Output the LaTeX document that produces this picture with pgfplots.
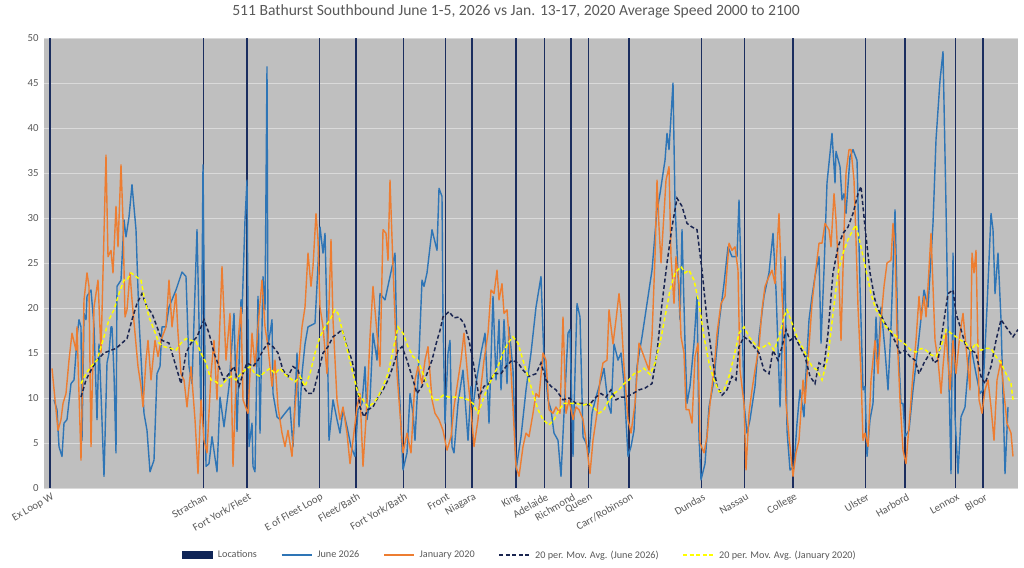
\documentclass[border=0pt]{standalone}
\usepackage{fontspec}
\setmainfont{Carlito}
\usepackage{pgfplots}
\pgfplotsset{compat=1.18}
\definecolor{bgGray}{HTML}{BFBFBF}
\definecolor{gridC}{HTML}{DADADA}
\definecolor{txtC}{HTML}{595959}
\definecolor{locNavy}{HTML}{1B2D5E}
\definecolor{locBox}{HTML}{0F2557}
\definecolor{juneBlue}{HTML}{2E75B6}
\definecolor{janOrange}{HTML}{ED7D31}
\definecolor{maNavy}{HTML}{1A2550}
\definecolor{maYellow}{HTML}{FFFF00}
\begin{document}
\begin{tikzpicture}
\path[use as bounding box] (0,0) rectangle (1024bp,568bp);
\begin{axis}[
  at={(44bp,80bp)}, anchor=south west,
  scale only axis, width=974bp, height=450bp,
  xmin=44, xmax=1018, ymin=0, ymax=50,
  axis background/.style={fill=bgGray},
  axis line style={draw=none},
  major tick length=0pt,
  ytick={0,5,...,50},
  ymajorgrids, grid style={gridC, line width=0.9bp},
  xtick={50,203,247,319,356,403,445.5,472,516,544,571,588.5,629,701,744.5,793,865,905,955,983},
  xticklabels={Ex Loop W,Strachan,Fort York/Fleet,E of Fleet Loop,Fleet/Bath,Fort York/Bath,Front,Niagara,King,Adelaide,Richmond,Queen,Carr/Robinson,Dundas,Nassau,College,Ulster,Harbord,Lennox,Bloor},
  xticklabel style={xshift=5bp, rotate=30, anchor=east, font=\fontsize{10.8bp}{12bp}\selectfont, text=txtC, inner sep=2bp},
  xticklabel shift=7bp,
  yticklabel style={font=\fontsize{10.8bp}{12bp}\selectfont, text=txtC, xshift=-2bp},
  /pgf/number format/assume math mode=true,
  title={511 Bathurst Southbound June 1-5, 2026 vs Jan. 13-17, 2020 Average Speed 2000 to 2100},
  title style={at={(0.4846,1.0467)}, anchor=center, yshift=0pt, font=\fontsize{15.6bp}{18bp}\selectfont, text=txtC},
  legend columns=5,
  legend style={at={(0.4887,-0.149)}, anchor=center, draw=none, fill=none,
    font=\fontsize{10.2bp}{12bp}\selectfont, text=txtC, inner sep=0pt,
    /tikz/every odd column/.append style={column sep=3bp},
    /tikz/every even column/.append style={column sep=22bp}},
  legend image code/.code={\draw[#1] (0bp,0bp) -- (30bp,0bp);},
]
% Locations
\addplot[ycomb, no marks, locNavy, line width=1.6bp,
  legend image code/.code={\fill[locBox] (0bp,-2.8bp) rectangle (29bp,2.8bp);}]
  coordinates {(50,50)(247,50)(356,50)(472,50)(516,50)(571,50)(629,50)(744.5,50)(793,50)(905,50)(983,50)};
\addlegendentry{Locations}
\addplot[ycomb, no marks, locNavy, line width=0.9bp, forget plot]
  coordinates {(203,50)(319,50)(403,50)(445.5,50)(544,50)(588.5,50)(701,50)(865,50)(955,50)};
% June 2026
\addplot[juneBlue, line width=1.4bp, line join=round] coordinates {
(54,9.8)(57,8.7)(59,4.6)(62,3.5)(64,7.2)(67,7.6)(71,11.6)(74,12)(76,15)(77,16.8)(79,18.7)(81,17.9)(82,5.3)(84,19.4)(86,18.7)(87,21.3)(91,22)(94,18)(97,7.6)(99,16)(101,10.5)(104,1.3)(107,13.9)(109,15)(111,17.9)(112,17.9)(114,12.7)(116,3.9)(117,22.4)(121,23.1)(124,29.8)(126,27.9)(129,30.1)(132,33.7)(136,28.7)(139,18.7)(144,8.3)(147,6.4)(150,1.8)(154,3.1)(157,12.7)(160,13.5)(162,17.9)(166,17.9)(169,20.1)(176,22)(182,24)(186,23.5)(189,13.5)(192,11.6)(197,28.7)(201,8.3)(203,35.9)(206,2.4)(209,2.7)(212,5.7)(217,1.8)(220,10.1)(224,6.8)(229,11.3)(234,19.4)(237,6.3)(241,20.9)(242,19.4)(245,29.8)(247,34.2)(249,4.6)(252,7.2)(253,2.4)(255,1.8)(258,21.3)(260,6.1)(263,23.5)(265,19.8)(267,46.8)(268,15.7)(272,18.7)(273,10.5)(277,7.9)(280,7.6)(285,8.3)(290,9)(293,4.6)(297,15)(299,6.8)(302,12.7)(305,16)(308,17.9)(315,18.3)(320,29)(323,26.1)(325,28.3)(327,18.7)(329,5.3)(333,9.8)(337,7.6)(340,6.1)(343,8.7)(347,6.8)(351,4.6)(355,3.5)(358,8.7)(362,9.4)(365,13.5)(367,7.6)(370,9.8)(373,17.2)(377,14.2)(380,21.6)(385,20.9)(390,23.5)(395,26.1)(397,15)(400,9.4)(403,2)(407,3.9)(410,10.5)(413,8.3)(415,5.3)(418,12)(422,23.1)(424,22.4)(427,23.9)(432,28.7)(437,26.4)(439,33.3)(442,32.4)(443,18.7)(445,7.2)(448,15)(450,16.4)(452,4.6)(454,3.9)(458,9.4)(463,13.1)(468,5.3)(471,11.3)(473,9)(476,11.6)(481,15)(485,17.2)(489,7.2)(493,21.3)(496,12)(499,18.7)(501,10.9)(504,18.7)(507,11.6)(509,17.9)(513,13.1)(516,2)(521,5.7)(526,10.9)(531,15)(536,20.1)(541,23.5)(544,14.2)(548,9.8)(551,8.7)(554,6.1)(558,5.3)(561,1.3)(564,8.3)(568,17.2)(570,17.6)(573,3.5)(574,8.7)(577,20.5)(580,19)(583,5.7)(586,5)(589,3.9)(592,8.3)(596,10.1)(601,12)(604,13.3)(608,9.4)(611,8.3)(614,16)(618,14.2)(621,15)(624,11.6)(628,3.5)(631,4.6)(634,6.4)(637,13.5)(642,16.8)(647,20.5)(652,24.2)(657,30.9)(660,32.7)(664,35.7)(665,36.4)(667,39.4)(669,37.6)(673,45)(675,31.6)(680,18.7)(682,28.7)(685,16.1)(687,9.4)(690,11.3)(694,16.1)(697,21.3)(699,5.7)(701,0.9)(705,2.7)(709,9)(714,12)(719,18.3)(724,22.7)(728,26.8)(732,25.7)(737,25.7)(739,32)(741,24.2)(744,9.4)(747,6.1)(750,7.6)(755,11.3)(759,16.8)(764,21.3)(769,23.9)(773,28.3)(776,22)(780,9)(785,25.7)(787,6.4)(790,2)(794,2.4)(797,7.2)(800,10.9)(804,7.9)(805,10.9)(809,18.7)(812,21.3)(815,23.5)(819,25.7)(821,16.1)(824,24.2)(827,33.9)(832,39.4)(835,33.9)(836,37.4)(840,35.7)(842,32)(844,32.7)(846,30.5)(850,36.8)(853,37.6)(857,36.4)(860,22.4)(863,10.9)(865,11.3)(867,3.5)(870,7.6)(873,9.4)(876,19)(878,14.2)(881,20.1)(885,15.3)(888,10.9)(891,17.9)(895,30.9)(898,16.4)(901,9.4)(903,9.4)(905,5.7)(909,6.4)(913,10.9)(918,15.7)(924,22)(928,20.1)(933,29.4)(936,38.7)(940,45.3)(943,48.5)(946,31.3)(949,11.6)(951,1.6)(953,26.1)(955,7.9)(958,1.6)(961,7.9)(965,9)(969,14.6)(971,15.7)(976,12.7)(980,10.5)(983,10.9)(987,20.1)(991,30.5)(993,28.7)(995,21.6)(998,26.1)(1001,18.7)(1005,1.6)(1008,9)
};
\addlegendentry{June 2026}
% January 2020
\addplot[janOrange, line width=1.4bp, line join=round] coordinates {
(52,13.3)(56,8.7)(58,6.4)(61,7.6)(63,9.4)(66,10.5)(69,14.2)(72,17.2)(76,15.3)(77,17.9)(81,3.1)(84,20.9)(87,23.9)(89,22.4)(91,4.6)(94,20.1)(98,23.1)(101,15)(103,23.9)(106,37)(108,25.7)(111,26.4)(113,23.9)(116,31.3)(118,26.8)(121,35.9)(123,29.8)(125,19)(127,19.8)(130,23.9)(132,20.9)(135,17.2)(138,13.5)(141,11.3)(143,9)(146,14.2)(148,16.4)(151,12)(155,16.4)(158,14.6)(161,16.4)(166,17.9)(169,23.1)(172,17.9)(176,21.6)(178,17.2)(181,12.7)(184,12)(187,9)(191,13.5)(195,7.6)(198,1.6)(201,9.8)(204,5.3)(207,3.9)(211,12.7)(214,16.4)(217,9.8)(222,24.6)(226,14.2)(230,19.4)(233,2.4)(237,15)(241,20.1)(243,9.8)(248,8.3)(252,17.2)(255,13.5)(258,17.9)(262,23.1)(265,17.9)(268,15.7)(272,11.3)(275,14.2)(278,9)(282,6.1)(285,4.6)(288,6.4)(292,3.5)(295,9)(298,12.7)(302,17.9)(305,20.1)(308,26.1)(311,22.4)(313,24.6)(316,30.5)(318,27.6)(320,20.1)(323,17.9)(327,12.7)(331,27.6)(333,18.7)(337,9.8)(340,7.6)(343,9)(347,6.1)(350,2.7)(353,5.3)(357,9)(360,10.5)(363,2.4)(367,9.4)(370,16.8)(373,22.4)(377,17.2)(380,13.5)(383,28.7)(386,28.3)(388,25.3)(390,34.2)(393,24.6)(395,18.7)(397,12.7)(400,8.3)(403,3.9)(407,6.1)(411,3.9)(415,12)(418,13.5)(422,11.6)(425,14.2)(428,15.7)(432,9.8)(435,8.3)(439,7.6)(443,6.4)(447,4.2)(451,5.7)(454,9)(458,12)(461,14.2)(464,17.2)(468,12)(471,8.7)(474,4.6)(478,7.6)(481,11.3)(484,14.2)(488,17.2)(491,22)(494,21.6)(497,24.2)(499,20.9)(502,22.7)(504,19.4)(507,19.8)(509,16.8)(513,9)(516,2.4)(519,1.3)(523,4.6)(526,6.1)(529,5.7)(533,8.3)(536,10.5)(539,10.1)(543,15)(546,14.2)(549,8.7)(553,8.3)(556,9)(560,8.3)(563,19)(566,8.3)(569,9.8)(573,7.6)(576,9)(579,8.7)(583,7.6)(586,5.3)(590,1.6)(593,5.3)(597,8.3)(600,12)(603,13.9)(607,14.2)(609,19.8)(613,16)(616,18.7)(619,21.6)(621,19.4)(624,13.5)(628,7.6)(631,6.1)(635,9.4)(639,16.1)(644,14.6)(649,13.1)(652,16.8)(655,25.7)(657,34.2)(659,29)(661,25)(664,30.5)(666,34.2)(669,35.7)(671,25.7)(674,20.5)(676,25.7)(679,22.7)(681,16.8)(684,15)(686,8.7)(689,8.7)(692,7.2)(695,14.6)(698,16.1)(700,5)(704,3.9)(707,5.7)(710,9.4)(714,13.1)(717,17.2)(721,20.5)(725,21.3)(729,27.2)(732,26.4)(735,26.8)(738,24.2)(740,13.1)(744,9.4)(746,2)(749,8.3)(752,10.9)(755,13.1)(759,15.7)(762,19.8)(765,22.4)(769,23.5)(772,24.2)(775,22.7)(779,30.5)(781,24.2)(784,16.8)(786,9.4)(789,5.7)(793,1.3)(796,3.9)(799,5.3)(803,12)(805,9.4)(809,15.7)(812,20.5)(815,23.5)(819,27.2)(822,27.2)(825,29.4)(829,28.7)(831,26.8)(834,32.7)(836,29.8)(839,23.1)(841,16.4)(844,28.3)(846,35)(849,37.6)(851,37.6)(854,34.2)(856,27.6)(858,20.1)(861,12.7)(863,5.3)(865,6.1)(868,4.6)(871,12)(875,16.4)(878,12.7)(881,18.7)(884,22.4)(887,25)(891,25.3)(893,29.4)(895,26.8)(897,17.2)(900,9.8)(903,4.2)(906,2.7)(910,8.3)(913,12.7)(916,16.4)(919,21.3)(921,18.7)(924,21.3)(926,19)(928,22.4)(931,28.3)(933,22.4)(935,16.4)(938,14.2)(941,10.5)(943,13.5)(946,17.2)(950,10.9)(953,16.4)(956,12.7)(960,17.2)(963,19.4)(966,15.7)(970,10.9)(972,26.1)(974,23.9)(976,26.4)(979,9.8)(982,8.3)(985,10.9)(988,12)(991,9)(994,5.3)(997,12)(1001,14.2)(1004,10.5)(1007,7.2)(1011,6.1)(1013,3.5)
};
\addlegendentry{January 2020}
% MA June
\addplot[maNavy, line width=1.5bp, dash pattern=on 4bp off 2.5bp] coordinates {
(81,10.1)(86,12)(91,13.1)(97,14.2)(104,15)(111,15.3)(116,15.5)(122,16.1)(127,16.6)(132,18.7)(137,20.5)(142,21.6)(147,20.1)(152,19.4)(157,17.9)(162,16.4)(169,16.1)(176,13.5)(181,11.6)(186,15)(191,16.1)(197,16.8)(204,18.7)(209,17.2)(214,15)(219,13.5)(224,12)(229,12.7)(234,13.5)(239,11.3)(243,12.7)(247,13.9)(253,13.5)(258,14.2)(263,15.3)(268,16.1)(273,15.7)(278,15)(283,13.1)(288,12.4)(293,13.5)(298,13.1)(303,11.3)(308,10.5)(313,10.5)(318,12.7)(323,15)(328,15.7)(333,16.8)(338,17.2)(342,17.6)(347,15.7)(352,14.2)(357,11.3)(360,9)(364,7.9)(368,8.7)(373,9)(378,10.1)(383,10.9)(388,12)(393,13.5)(398,15.3)(402,15.7)(407,14.2)(412,12.4)(417,10.5)(422,11.3)(427,12.7)(432,14.2)(437,16.4)(440,17.5)(443,19)(449,19.6)(454,18.9)(459,19)(464,18.3)(469,16.4)(474,13.5)(479,10.1)(484,11.3)(489,11.6)(494,12.7)(501,12.7)(506,13.5)(512,14.2)(518,13.9)(523,13.1)(529,12.4)(536,12.7)(541,13.9)(546,12)(551,11.3)(556,10.9)(563,9.8)(569,10)(576,9.4)(583,9.4)(589,9.2)(596,10.1)(601,10.5)(606,10.1)(611,10.9)(616,9.8)(621,10.1)(626,10.1)(633,10.5)(639,10.9)(645,11.1)(652,11.6)(657,15)(662,20.5)(667,25)(672,29)(677,32.2)(682,31.3)(687,29.4)(692,29)(697,28.7)(702,24.2)(707,18.7)(712,14.6)(717,11.3)(722,10.3)(727,10.9)(732,12.4)(736,12)(739,15.7)(744,16.8)(749,16.4)(754,15.7)(759,15)(764,13.1)(769,12.7)(773,15.3)(778,14.2)(782,15.7)(786,17.6)(790,16.4)(795,16.8)(800,15.7)(805,14.6)(810,12.4)(815,11.6)(819,13.9)(824,13.5)(828,17.2)(833,23.9)(838,26.8)(843,28.3)(848,29)(853,30.5)(858,32.7)(861,33.5)(865,29)(870,23.9)(875,20.9)(880,19.4)(885,18.3)(891,17.2)(896,16.1)(900,15)(905,15.3)(910,14.6)(915,14.2)(919,12.7)(924,13.9)(930,15)(934,13.9)(938,14.2)(943,17.9)(948,21.6)(953,22)(956,19.4)(961,17.6)(966,15.7)(971,15.3)(976,15)(981,12.4)(985,11.6)(991,13.5)(996,16.4)(1001,18.7)(1006,17.9)(1013,16.8)(1018,17.6)
};
\addlegendentry{20 per. Mov. Avg. (June 2026)}
% MA January
\addplot[maYellow, line width=1.5bp, dash pattern=on 4bp off 2.5bp] coordinates {
(81,11.6)(86,12.7)(91,13.5)(97,14.2)(104,16.8)(109,18.7)(114,19.8)(119,21.6)(124,23.1)(127,23.1)(131,23.9)(136,23.5)(141,23.1)(144,21.3)(149,19)(154,17.6)(159,16.1)(164,15.7)(171,15.5)(176,15.3)(181,16.1)(186,16.6)(191,16.4)(196,16.3)(201,15)(206,13.9)(211,12)(216,11.8)(221,11.3)(226,12)(231,12.4)(236,12)(241,12.7)(245,13.1)(250,13.5)(255,12.7)(260,12.4)(265,12.9)(270,13.3)(275,12.7)(280,13.3)(285,12.6)(290,12.2)(295,11.8)(300,12.4)(305,11.3)(310,12.7)(315,15)(320,16.8)(325,17.9)(330,18.7)(335,19.8)(338,19.4)(343,17.2)(348,15)(353,12.7)(358,10.5)(363,9.8)(368,9)(373,9.4)(378,10.1)(383,11.3)(388,12.7)(393,15.3)(398,17.9)(403,17.2)(408,15.7)(413,14.6)(418,14.2)(423,12.7)(428,11.3)(433,9.8)(438,9.8)(443,10.3)(449,10.1)(456,10.1)(463,10)(468,9.8)(473,9.4)(478,8.3)(483,9.8)(488,11.3)(493,12.4)(498,13.5)(503,15)(508,16.1)(513,16.8)(518,16.1)(523,14.2)(528,12.4)(533,10.5)(538,8.7)(543,7.6)(549,7)(554,7.6)(559,8.7)(564,9.4)(569,9.4)(576,9.4)(583,9.2)(589,9.4)(594,8.9)(599,8.3)(604,8.7)(609,9.8)(614,10.5)(619,10.9)(624,11.6)(629,12)(634,12.7)(639,12.9)(644,13.3)(650,12.6)(655,13.9)(660,16.1)(665,19)(670,22)(675,23.9)(681,24.6)(685,23.9)(689,24.2)(694,23.1)(699,20.5)(704,16.8)(709,13.9)(714,12)(719,10.7)(724,10.9)(729,12.4)(734,14.6)(739,17.2)(744,17.9)(749,16.8)(754,16.1)(759,15.5)(764,15.7)(769,16.1)(774,15.3)(779,16.8)(784,19)(787,19.8)(792,18.3)(797,16.8)(802,15.7)(807,14.6)(812,13.5)(817,13.1)(822,12)(828,14.6)(833,19.4)(838,23.9)(843,26.1)(848,27.6)(853,28.7)(856,29.2)(861,26.8)(866,24.2)(871,21.6)(876,19.8)(881,19)(886,17.9)(893,17.2)(900,16.4)(906,15.9)(911,15.3)(916,15.1)(921,15.5)(926,15.3)(931,14.8)(936,14.6)(941,15.7)(946,17.6)(951,17.2)(956,16.8)(961,16.4)(966,16.1)(971,15.3)(976,16.1)(981,15.3)(986,15.5)(991,15.5)(996,14.6)(1001,13.9)(1006,12.7)(1011,11.6)(1013,9.8)
};
\addlegendentry{20 per. Mov. Avg. (January 2020)}
\end{axis}
\end{tikzpicture}
\end{document}
